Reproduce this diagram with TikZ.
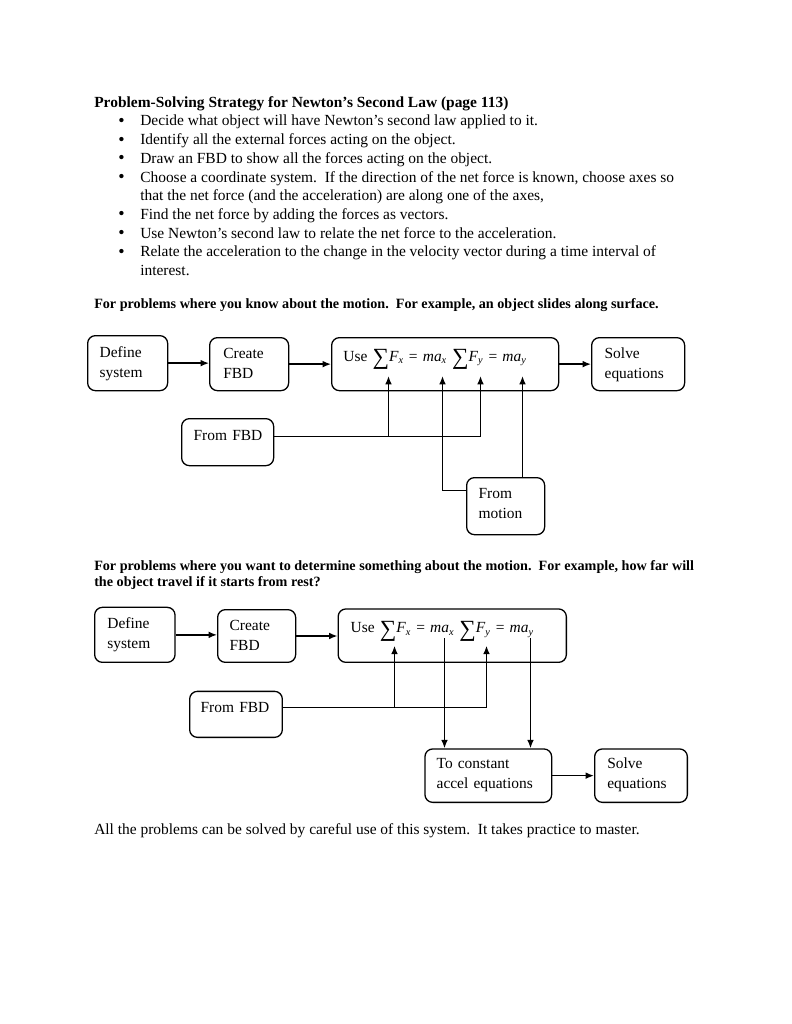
\documentclass[tikz,border=0pt]{standalone}
\usepackage{fontspec}
\setmainfont{Liberation Serif}
\usetikzlibrary{arrows.meta,
                positioning}

\newdimen\pxu
\pxu=0.7737bp
\newcommand\sumsign{\raisebox{-0.2em}{\fontsize{18}{18}\selectfont ∑}}
\newcommand\eqxy[1]{\sumsign\textit{F}\textsubscript{\textit{#1}} = \textit{ma}\textsubscript{\textit{#1}}}
\newcommand\itemdot{\makebox[22\pxu][l]{\raisebox{-0.3bp}{\fontsize{14}{14}\selectfont\textbullet}}}

\tikzset{
    body/.style={font=\fontsize{12}{15}\selectfont, inner sep=0pt, anchor=base west},
    head/.style={font=\fontsize{12}{15}\selectfont\bfseries, inner sep=0pt, anchor=base west},
    note/.style={font=\fontsize{11}{13}\selectfont\bfseries, inner sep=0pt, anchor=base west},
    stepbox/.style={draw, rounded corners=6bp, line width=1bp, anchor=north west,
                    align=left, inner ysep=0pt, font=\fontsize{12}{15.3}\selectfont},
    link/.style={line width=1.1bp, -{Latex[length=6.5bp, width=5.2bp]}},
    wire/.style={line width=1.1bp}
}

\begin{document}
\begin{tikzpicture}[x=\pxu, y=-\pxu]
    \useasboundingbox (0,0) rectangle (791,1024);

    % strategy list
    \node[head] (title) at (94,107.5) {Problem-Solving Strategy for Newton’s Second Law (page 113)};
    \node[body] (b1) at (118,125.8) {\itemdot Decide what object will have Newton’s second law applied to it.};
    \node[body] (b2) at (118,144.8) {\itemdot Identify all the external forces acting on the object.};
    \node[body] (b3) at (118,163.5) {\itemdot Draw an FBD to show all the forces acting on the object.};
    \node[body] (b4) at (118,182.5) {\itemdot Choose a coordinate system.\ \ If the direction of the net force is known, choose axes so};
    \node[body] (b4b) at (140,200.8) {that the net force (and the acceleration) are along one of the axes,};
    \node[body] (b5) at (118,219.2) {\itemdot Find the net force by adding the forces as vectors.};
    \node[body] (b6) at (118,238.2) {\itemdot Use Newton’s second law to relate the net force to the acceleration.};
    \node[body] (b7) at (118,256.8) {\itemdot Relate the acceleration to the change in the velocity vector during a time interval of};
    \node[body] (b7b) at (140,275.2) {interest.};

    \node[note] (known) at (94,308.5) {For problems where you know about the motion.\ \ For example, an object slides along surface.};

    % first chart
    \node[stepbox, text width=56\pxu, inner xsep=12\pxu, text height=22.3\pxu, text depth=32.7\pxu] (def1) at (87,335) {Define\\system};
    \node[stepbox, text width=51.6\pxu, inner xsep=13.7\pxu, text height=21\pxu, text depth=32\pxu] (fbd1) at (209,337) {Create\\FBD};
    \node[stepbox, text width=203.6\pxu, inner xsep=11.7\pxu, text height=23.7\pxu, text depth=29.3\pxu] (use1) at (331,337) {Use \eqxy{x} \eqxy{y}};
    \node[stepbox, text width=67\pxu, inner xsep=13\pxu, text height=21\pxu, text depth=32\pxu] (solve1) at (591,337) {Solve\\equations};
    \node[stepbox, text width=76\pxu, inner xsep=8\pxu, text height=22\pxu, text depth=25\pxu] (from1) at (181,418) {\hspace*{4\pxu}From FBD};
    \node[stepbox, text width=54\pxu, inner xsep=12\pxu, text height=21\pxu, text depth=36\pxu] (mot1) at (466,477) {From\\motion};

    \coordinate (fx1) at (388.5,376);
    \coordinate (fy1) at (480.5,376);
    \coordinate (ax1) at (442.5,376);
    \coordinate (ay1) at (522.5,376);
    \coordinate (bus1) at (480.5,436.5);

    \draw[link] (def1.east) -- (def1.east -| fbd1.west);
    \draw[link] (fbd1.east) -- (fbd1.east -| use1.west);
    \draw[link] (use1.east) -- (use1.east -| solve1.west);
    \draw[wire] (from1.east |- bus1) -- (bus1);
    \draw[link] (bus1) -- (fy1);
    \draw[link] (fx1 |- bus1) -- (fx1);
    \draw[link] (mot1.west |- 0,490.5) -- (ax1 |- 0,490.5) -- (ax1);
    \draw[link] (mot1.north -| ay1) -- (ay1);

    \node[note] (want) at (94,570) {For problems where you want to determine something about the motion.\ \ For example, how far will};
    \node[note] (want2) at (94,586) {the object travel if it starts from rest?};

    % second chart
    \node[stepbox, text width=55\pxu, inner xsep=12.7\pxu, text height=21.6\pxu, text depth=33.4\pxu] (def2) at (94,606.7) {Define\\system};
    \node[stepbox, text width=54\pxu, inner xsep=12\pxu, text height=21\pxu, text depth=31.7\pxu] (fbd2) at (217,609) {Create\\FBD};
    \node[stepbox, text width=203.2\pxu, inner xsep=12.5\pxu, text height=24\pxu, text depth=29.4\pxu] (use2) at (337.5,608.3) {Use \eqxy{x} \eqxy{y}};
    \node[stepbox, text width=76.7\pxu, inner xsep=8\pxu, text height=21\pxu, text depth=25\pxu] (from2) at (189,690.7) {\hspace*{3\pxu}From FBD};
    \node[stepbox, text width=103.3\pxu, inner xsep=11.7\pxu, text height=20\pxu, text depth=33.4\pxu] (const2) at (424.3,748.3) {To constant\\accel equations};
    \node[stepbox, text width=67.3\pxu, inner xsep=12.7\pxu, text height=20\pxu, text depth=33.4\pxu] (solve2) at (594,748.3) {Solve\\equations};

    \coordinate (fx2) at (394.5,645.7);
    \coordinate (fy2) at (486.5,645.7);
    \coordinate (ax2) at (444.5,638);
    \coordinate (ay2) at (530.5,638);
    \coordinate (bus2) at (486.5,707.5);

    \draw[link] (def2.east) -- (def2.east -| fbd2.west);
    \draw[link] (fbd2.east) -- (fbd2.east -| use2.west);
    \draw[wire] (from2.east |- bus2) -- (bus2);
    \draw[link] (bus2) -- (fy2);
    \draw[link] (fx2 |- bus2) -- (fx2);
    \draw[link] (ax2) -- (ax2 |- const2.north);
    \draw[link] (ay2) -- (ay2 |- const2.north);
    \draw[link] (const2.east) -- (const2.east -| solve2.west);

    \node[body] (outro) at (94,834) {All the problems can be solved by careful use of this system.\ \ It takes practice to master.};
\end{tikzpicture}
\end{document}
